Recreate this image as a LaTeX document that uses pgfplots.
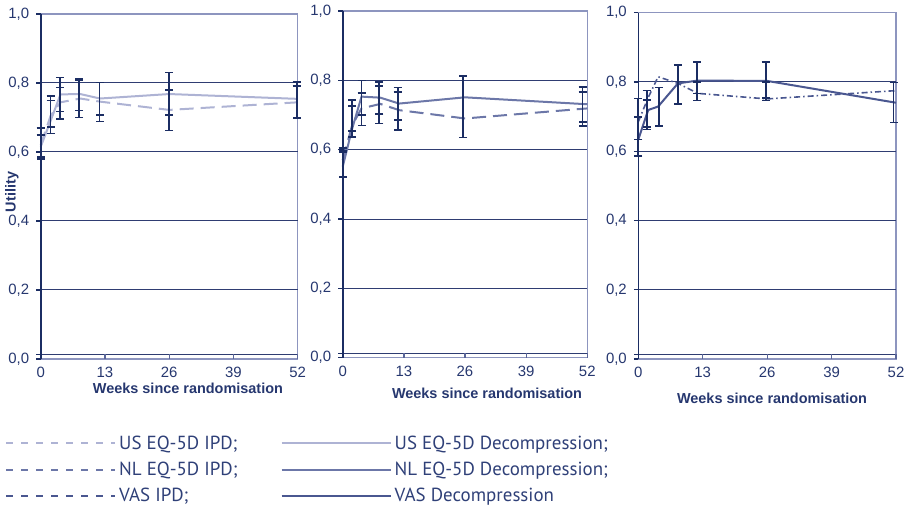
\documentclass[border=0pt]{standalone}
\usepackage{pgfplots}
\pgfplotsset{compat=1.18}
\usepackage{fontspec}
\setmainfont{Liberation Sans}
\newfontfamily\legfont{PT Sans}
\definecolor{txtc}{HTML}{26376F}
\definecolor{legc}{HTML}{2F4078}
\definecolor{errc}{HTML}{1B2D63}
\definecolor{gridc}{HTML}{2F3D72}
\definecolor{framec}{HTML}{8D95BF}
\definecolor{botc}{HTML}{5A6699}
\definecolor{usc}{HTML}{AEB3D4}
\definecolor{nlc}{HTML}{6C77A8}
\definecolor{vasc}{HTML}{4A5790}
\pgfplotsset{
  panel/.style={
    scale only axis, clip=false,
    xmin=0, xmax=52, ymin=0, ymax=1,
    axis background/.style={draw=framec, line width=1.4bp},
    axis line style={draw=none},
    xtick={0,13,26,39,52}, xticklabels={0,13,26,39,52},
    ytick={0.013,0.2,0.4,0.6,0.8}, yticklabels={{},{0,2},{0,4},{0,6},{0,8}},
    extra y ticks={0,1}, extra y tick labels={{0,0},{1,0}},
    extra y tick style={grid=none},
    extra x ticks={0}, extra x tick labels={},
    extra x tick style={grid=major, major grid style={draw=errc, line width=1.6bp}, major tick length=0pt},
    ymajorgrids, major grid style={draw=gridc, line width=1bp},
    xtick pos=bottom, ytick pos=left,
    ytick style={draw=errc, line width=1.3bp},
    xtick style={draw=botc, line width=1.3bp, yshift=4.5bp},
    tick align=outside, major tick length=4.5bp,
    ticklabel style={font=\fontsize{15}{15}\selectfont, text=txtc},
    yticklabel style={xshift=-3.5bp},
    label style={font=\bfseries\fontsize{14.5}{14.5}\selectfont, text=txtc},
    xlabel={Weeks since randomisation},
  },
  eb/.style={draw=none, mark=none, forget plot,
    error bars/.cd, y dir=both, y explicit,
    error bar style={draw=errc, solid, line width=1.8bp},
    error mark options={rotate=90, draw=errc, solid, line width=1.6bp, mark size=4bp}},
  ser/.style={line width=2bp, forget plot},
}
\begin{document}
\begin{tikzpicture}
\useasboundingbox (0,0) rectangle (904bp,513bp);
% Panel 1: US
\begin{axis}[panel, at={(40.7bp,154bp)}, anchor=south west, width=257bp, height=345bp,
  ylabel={Utility},
  ylabel style={at={(axis description cs:-0.112,0.484)}, anchor=center, rotate=0},
  xlabel style={at={(axis description cs:0.573,-0.084)}, anchor=center},
  legend image code/.code={\draw[#1] (0bp,0bp) -- (109bp,0bp);},
  legend style={at={(axis description cs:-0.139,-0.206)}, anchor=north west,
    draw=none, fill=none, inner sep=0pt, font=\legfont\fontsize{19}{22}\selectfont,
    text=legc, legend columns=2,
    /tikz/every even column/.append style={column sep=40bp},
    nodes={inner xsep=3bp, inner ysep=5.6bp}},
  legend cell align=left]
\addlegendimage{usc, line width=2bp, dash pattern=on 7bp off 8bp}
\addlegendentry{US EQ-5D IPD;}
\addlegendimage{usc, line width=2bp}
\addlegendentry{US EQ-5D Decompression;}
\addlegendimage{nlc, line width=2bp, dash pattern=on 7bp off 8bp}
\addlegendentry{NL EQ-5D IPD;}
\addlegendimage{nlc, line width=2bp}
\addlegendentry{NL EQ-5D Decompression;}
\addlegendimage{vasc, line width=2bp, dash pattern=on 7bp off 8bp}
\addlegendentry{VAS IPD;}
\addlegendimage{vasc, line width=2bp}
\addlegendentry{VAS Decompression}
\addplot[ser, usc, dash pattern=on 14bp off 7bp] coordinates {(0,0.62) (2,0.705) (4,0.744) (8,0.755) (12,0.746) (26,0.722) (52,0.744)};
\addplot[ser, usc] coordinates {(0,0.615) (2,0.69) (4,0.767) (8,0.768) (12,0.755) (26,0.768) (52,0.754)};
\addplot[eb] coordinates {(0,0.6245) +- (0,0.0455) (2,0.708) +- (0,0.054) (3.9,0.756) +- (0,0.06) (7.8,0.7565) +- (0,0.0565) (11.9,0.7445) +- (0,0.0565) (26,0.746) +- (0,0.084) (51.8,0.7505) +- (0,0.0525)};
\addplot[eb] coordinates {(0,0.6175) +- (0,0.0315) (2,0.711) +- (0,0.038) (3.9,0.752) +- (0,0.035) (7.8,0.7645) +- (0,0.0445) (11.9,0.754) +- (0,0.047) (26,0.7435) +- (0,0.0365) (51.8,0.746) +- (0,0.046)};
\end{axis}
% Panel 2: NL
\begin{axis}[panel, at={(342.7bp,155.3bp)}, anchor=south west, width=244.6bp, height=346.7bp,
  xlabel style={at={(axis description cs:0.59,-0.102)}, anchor=center}]
\addplot[ser, nlc, dash pattern=on 14bp off 7bp] coordinates {(0,0.57) (2,0.67) (4,0.719) (8,0.732) (12,0.714) (26,0.69) (52,0.719)};
\addplot[ser, nlc] coordinates {(0,0.551) (2,0.66) (4,0.753) (8,0.75) (12,0.733) (26,0.751) (52,0.731)};
\addplot[eb] coordinates {(0,0.5595) +- (0,0.0375) (2,0.6895) +- (0,0.0535) (4,0.735) +- (0,0.065) (7.8,0.7355) +- (0,0.0595) (11.7,0.718) +- (0,0.061) (25.6,0.7235) +- (0,0.0885) (51,0.725) +- (0,0.056)};
\addplot[eb] coordinates {(0,0.599) +- (0,0.005) (2,0.69) +- (0,0.036) (4,0.732) +- (0,0.032) (7.8,0.7435) +- (0,0.0405) (11.7,0.7265) +- (0,0.0405) (51,0.723) +- (0,0.043)};
\end{axis}
% Panel 3: VAS
\begin{axis}[panel, at={(638.3bp,154bp)}, anchor=south west, width=257.7bp, height=346.3bp,
  xlabel style={at={(axis description cs:0.519,-0.1126)}, anchor=center}]
\addplot[ser, vasc, line width=1.6bp, dash pattern=on 6bp off 3bp on 1.5bp off 3bp] coordinates {(0,0.685) (2,0.755) (4,0.815) (8,0.796) (12,0.767) (26,0.751) (52,0.775)};
\addplot[ser, vasc] coordinates {(0,0.634) (2,0.719) (4,0.729) (8,0.796) (12,0.804) (26,0.803) (52,0.74)};
\addplot[eb] coordinates {(0,0.6695) +- (0,0.0825) (1.7,0.719) +- (0,0.056) (4.1,0.7285) +- (0,0.0555) (8,0.793) +- (0,0.056) (11.9,0.802) +- (0,0.056) (25.7,0.8015) +- (0,0.0555) (51.5,0.7405) +- (0,0.0575)};
\addplot[eb] coordinates {(0,0.666) +- (0,0.032) (1.7,0.709) +- (0,0.039) (11.9,0.7835) +- (0,0.0165) (25.7,0.7765) +- (0,0.0235)};
\end{axis}
\end{tikzpicture}
\end{document}
